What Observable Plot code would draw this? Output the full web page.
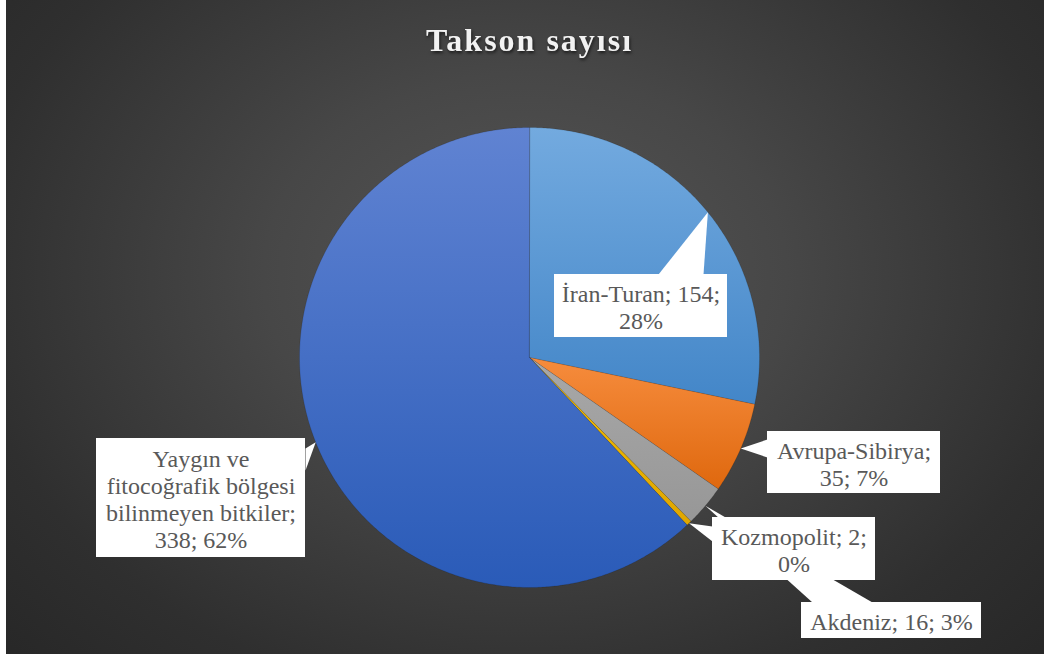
<!DOCTYPE html>
<html>
<head>
<meta charset="utf-8">
<script src="https://cdn.jsdelivr.net/npm/d3@7"></script>
<script src="https://cdn.jsdelivr.net/npm/@observablehq/plot@0.6"></script>
<style>
  html, body { margin: 0; padding: 0; background: #ffffff; }
  #chart { position: absolute; left: 6px; top: 0; }
  #chart svg text, #chart svg tspan { font-family: "Liberation Serif", "Times New Roman", Times, serif !important; }
</style>
</head>
<body>
<div id="chart"></div>
<script>
// ---- Data ----
const title = "Takson sayısı";
const categories = ["İran-Turan", "Avrupa-Sibirya", "Akdeniz", "Kozmopolit", "Yaygın ve fitocoğrafik bölgesi bilinmeyen bitkiler"];
const values = [154, 35, 16, 2, 338];
const percents = [28, 7, 3, 0, 62];

// ---- Styles ----
const gradients = [
  ["#73aadf", "#4386c8"],
  ["#f68c3d", "#df680e"],
  ["#a8a8a8", "#979797"],
  ["#f7c000", "#dfa600"],
  ["#6083d2", "#2a5bb8"]
];

// ---- Layout (page pixel coordinates) ----
const W = 1038, H = 654;
const cx = 529, cy = 357, R = 230;
const labelLayout = [
  {box: [554, 727, 274, 337], base: [[658, 274], [703, 274]],
   fmt: (c, v, p) => `${c}; ${v};\n${p}%`},
  {box: [767, 940, 431, 493], base: [[767, 439], [767, 457]],
   fmt: (c, v, p) => `${c};\n${v}; ${p}%`},
  {box: [801, 981, 602, 638], base: [[812, 602], [872, 602]],
   fmt: (c, v, p) => `${c}; ${v}; ${p}%`},
  {box: [712, 875, 517, 580], base: [[712, 526], [712, 541]],
   fmt: (c, v, p) => `${c}; ${v};\n${p}%`},
  {box: [96, 305, 438, 557], base: [[305, 448], [305, 470]],
   fmt: (c, v, p) => c.replace(" fitocoğrafik", "\nfitocoğrafik").replace(" bilinmeyen", "\nbilinmeyen") + `;\n${v}; ${p}%`}
];

// ---- Geometry from data ----
const arcs = d3.pie().sort(null).value(d => d)(values);
function arcPoints(a0, a1) {
  const pts = [{x: cx, y: cy}];
  const n = Math.max(2, Math.ceil((a1 - a0) / (Math.PI / 360)));
  for (let i = 0; i <= n; i++) {
    const a = a0 + (a1 - a0) * i / n;
    pts.push({x: cx + R * Math.sin(a), y: cy - R * Math.cos(a)});
  }
  return pts;
}
const slices = arcs.map((a, i) => ({i, points: arcPoints(a.startAngle, a.endAngle)}));
const pointers = arcs.map((a, i) => {
  const mid = (a.startAngle + a.endAngle) / 2;
  const tip = {x: cx + R * Math.sin(mid), y: cy - R * Math.cos(mid)};
  const b = labelLayout[i].base;
  return [tip, {x: b[0][0], y: b[0][1]}, {x: b[1][0], y: b[1][1]}];
});
const boxes = labelLayout.map((l, i) => ({x1: l.box[0], x2: l.box[1], y1: l.box[2], y2: l.box[3]}));
const labels = labelLayout.map((l, i) => ({
  x: (l.box[0] + l.box[1]) / 2,
  y: (l.box[2] + l.box[3]) / 2 + 1,
  text: l.fmt(categories[i], values[i], percents[i])
}));

// gradient defs as a render-function mark
const defsMark = () => {
  const ns = "http://www.w3.org/2000/svg";
  const defs = document.createElementNS(ns, "defs");
  defs.innerHTML = gradients.map((g, i) =>
    `<linearGradient id="sliceGrad${i}" x1="0" y1="0" x2="0" y2="1">
       <stop offset="0%" stop-color="${g[0]}"/>
       <stop offset="100%" stop-color="${g[1]}"/>
     </linearGradient>`).join("");
  return defs;
};

const serif = "Liberation Serif";

const chart = Plot.plot({
  width: W,
  height: H,
  margin: 0,
  x: {type: "linear", domain: [6, 6 + W], range: [0, W], axis: null},
  y: {type: "linear", domain: [0, H], range: [0, H], axis: null},
  style: {
    background: "radial-gradient(ellipse 72% 88% at 50% 42%, #565656 0%, #474747 35%, #2f2f2f 75%, #262626 100%)",
    overflow: "visible"
  },
  marks: [
    defsMark,
    ...slices.map(s => Plot.line(s.points, {
      x: "x", y: "y", curve: "linear-closed",
      fill: `url(#sliceGrad${s.i})`,
      stroke: "rgba(0,0,0,0.22)", strokeWidth: 0.6
    })),
    ...pointers.map(p => Plot.line(p, {
      x: "x", y: "y", curve: "linear-closed", fill: "white", stroke: "none"
    })),
    Plot.rect(boxes, {x1: "x1", x2: "x2", y1: "y1", y2: "y2", fill: "white", stroke: "none"}),
    Plot.text(labels, {
      x: "x", y: "y", text: "text",
      fontFamily: serif, fontSize: 24, lineHeight: 1.125,
      fill: "#595959", textAnchor: "middle"
    }),
    Plot.text([title], {
      x: () => 529, y: () => 40, text: d => d,
      fontFamily: serif, fontSize: 32, fontWeight: "bold",
      fill: "#f2f2f2", textAnchor: "middle"
    })
  ]
});

// cosmetic touches: title letter-spacing and shadow
chart.querySelectorAll("text").forEach(t => {
  if (t.textContent === title) {
    t.style.letterSpacing = "2px";
    t.style.filter = "drop-shadow(1px 2px 1.5px rgba(0,0,0,0.6))";
  }
});

document.getElementById("chart").appendChild(chart);
</script>
</body>
</html>
